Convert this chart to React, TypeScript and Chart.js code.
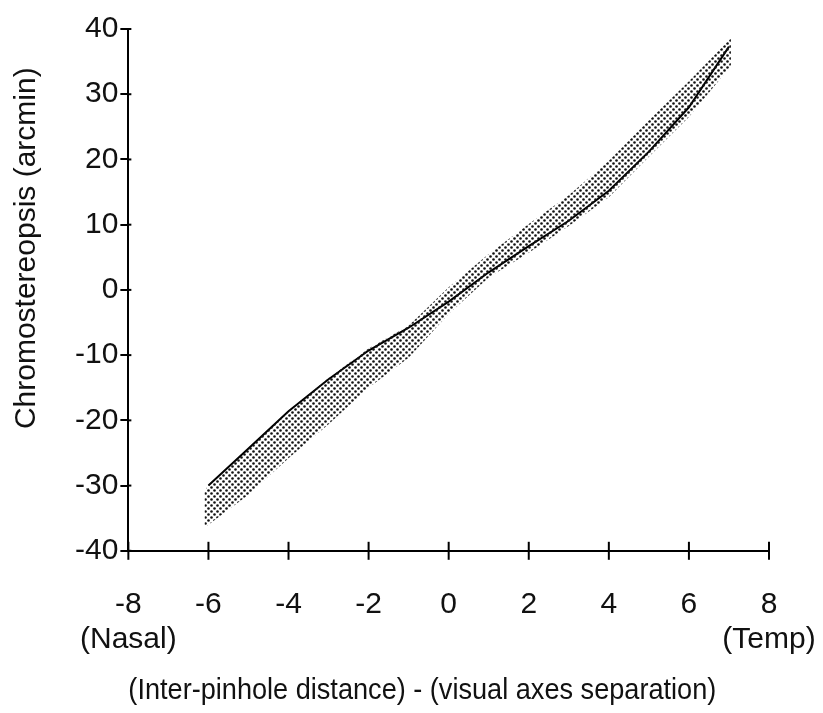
import React, { useEffect, useRef } from 'react';
import { Chart, registerables } from 'chart.js';
Chart.register(...registerables);

// Central curve
const lineX = [-6, -5, -4, -3, -2, -1, 0, 1, 2, 3, 4, 5, 6, 7];
const lineY = [-30, -24.3, -18.6, -13.7, -9.3, -5.8, -1.8, 2.7, 6.7, 10.6, 15.2, 21.2, 28, 37.3];

// Dotted band (range)
const bandX = [-6.1, -6, -5, -4, -3, -2, -1, 0, 1, 2, 3, 4, 5, 6, 7, 7.05];
const bandUpper = [-30.8, -30, -24.3, -18.6, -13.5, -9, -5.5, 0.4, 5.5, 10.1, 14.5, 19.8, 26, 32, 38.3, 38.6];
const bandLower = [-36.5, -36, -31.4, -25.8, -20.6, -15, -10.4, -3.7, 1.9, 5.7, 9.8, 14.2, 20.4, 26.5, 34, 34.5];

// Axis ticks
const xTickValues = [-8, -6, -4, -2, 0, 2, 4, 6, 8];
const xTickLabels: (string | string[])[] = [['-8', '(Nasal)'], '-6', '-4', '-2', '0', '2', '4', '6', ['8', '(Temp)']];
const yTickValues = [-40, -30, -20, -10, 0, 10, 20, 30, 40];
const yTickLabels = ['-40', '-30', '-20', '-10', '0', '10', '20', '30', '40'];

const xTitle = '(Inter-pinhole distance) - (visual axes separation)';
const yTitle = 'Chromostereopsis (arcmin)';

// the titles in the reference sit off-centre: pad with spaces to shift them
const xTitleShown = xTitle + ' '.repeat(7);
const yTitleShown = ' '.repeat(10) + yTitle;

function makePattern(): CanvasPattern | string {
  const c = document.createElement('canvas');
  c.width = 6;
  c.height = 6;
  const g = c.getContext('2d');
  if (!g) return '#999';
  g.fillStyle = '#111';
  g.beginPath();
  g.arc(1.5, 1.5, 1.3, 0, Math.PI * 2);
  g.fill();
  g.beginPath();
  g.arc(4.5, 4.5, 1.3, 0, Math.PI * 2);
  g.fill();
  const p = g.createPattern(c, 'repeat');
  return p || '#999';
}

// x ticks cross the axis line (drawn here); y ticks get a short inner stub
const crossTicks = {
  id: 'crossTicks',
  afterDraw(chart: any) {
    const { ctx, scales } = chart;
    const x = scales.x;
    const y = scales.y;
    ctx.save();
    ctx.strokeStyle = '#000';
    ctx.lineWidth = 2;
    x.ticks.forEach((t: any) => {
      const px = x.getPixelForValue(t.value);
      ctx.beginPath();
      ctx.moveTo(px, x.top + 9);
      ctx.lineTo(px, x.top - 9);
      ctx.stroke();
    });
    y.ticks.forEach((t: any) => {
      const py = y.getPixelForValue(t.value);
      ctx.beginPath();
      ctx.moveTo(y.right, py);
      ctx.lineTo(y.right + 3, py);
      ctx.stroke();
    });
    ctx.restore();
  },
};

export default function App() {
  const ref = useRef<HTMLCanvasElement>(null);
  useEffect(() => {
    if (!ref.current) return;
    Chart.defaults.font.family = "'Liberation Sans', Arial, sans-serif";
    const pattern = makePattern();
    const chart = new Chart(ref.current, {
      type: 'line',
      data: {
        datasets: [
          {
            label: 'lower',
            data: bandX.map((x, i) => ({ x, y: bandLower[i] })),
            borderWidth: 0,
            pointRadius: 0,
            fill: false,
            tension: 0,
          },
          {
            label: 'upper',
            data: bandX.map((x, i) => ({ x, y: bandUpper[i] })),
            borderWidth: 0,
            pointRadius: 0,
            fill: '-1',
            backgroundColor: pattern as any,
            tension: 0,
          },
          {
            label: 'curve',
            data: lineX.map((x, i) => ({ x, y: lineY[i] })),
            borderColor: '#000',
            borderWidth: 2,
            pointRadius: 0,
            fill: false,
            tension: 0,
          },
        ],
      },
      options: {
        responsive: false,
        animation: false,
        layout: { padding: { top: 29, right: 54, left: 9, bottom: 4 } },
        plugins: {
          legend: { display: false },
          tooltip: { enabled: false },
        },
        scales: {
          x: {
            type: 'linear',
            min: -8,
            max: 8,
            afterBuildTicks: (s: any) => {
              s.ticks = xTickValues.map((v) => ({ value: v }));
            },
            ticks: {
              autoSkip: false,
              callback: (v: any) => {
                const i = xTickValues.indexOf(Number(v));
                return i >= 0 ? xTickLabels[i] : '';
              },
              font: { size: 30, lineHeight: 1.17 },
              color: '#111',
              maxRotation: 0,
              padding: 0,
            },
            grid: { drawOnChartArea: false, drawTicks: true, tickLength: 36, color: 'rgba(0,0,0,0)' },
            border: { color: '#000', width: 2 },
            title: { display: true, text: xTitleShown, font: { size: 30 }, color: '#111', padding: { top: 16, bottom: 0 } },
          },
          y: {
            type: 'linear',
            min: -40,
            max: 40,
            afterBuildTicks: (s: any) => {
              s.ticks = yTickValues.map((v) => ({ value: v }));
            },
            ticks: {
              autoSkip: false,
              callback: (v: any) => {
                const i = yTickValues.indexOf(Number(v));
                return i >= 0 ? yTickLabels[i] : '';
              },
              font: { size: 30 },
              color: '#111',
              padding: 2,
            },
            grid: { drawOnChartArea: false, drawTicks: true, tickLength: 8, color: '#000', lineWidth: 2 },
            border: { color: '#000', width: 2 },
            title: { display: true, text: yTitleShown, font: { size: 30 }, color: '#111', padding: { top: 0, bottom: 28 } },
          },
        },
      },
      plugins: [crossTicks],
    });
    return () => chart.destroy();
  }, []);
  return (
    <div style={{ position: 'absolute', left: 0, top: 0, width: 823, height: 713, background: '#fff' }}>
      <canvas ref={ref} width={823} height={713} />
    </div>
  );
}
